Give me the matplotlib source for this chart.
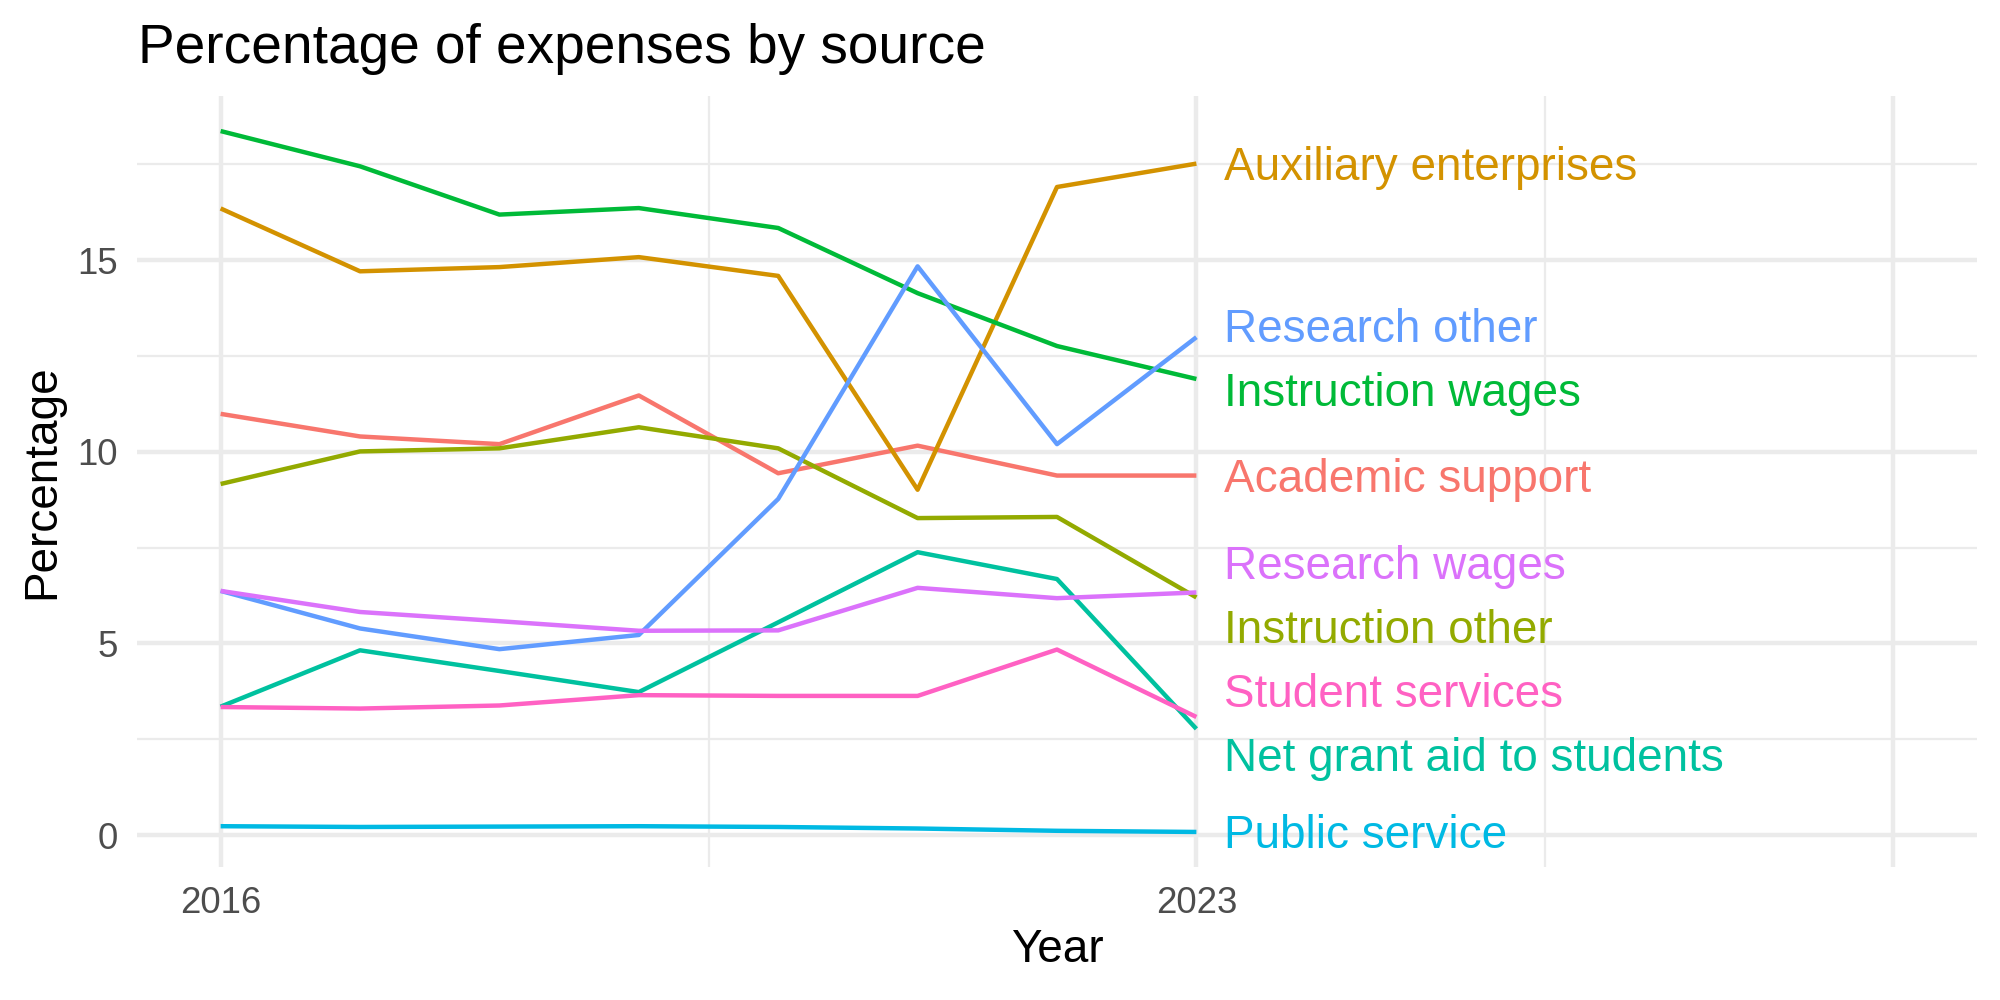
import matplotlib
matplotlib.use("Agg")
import matplotlib.pyplot as plt
import matplotlib.transforms as mtransforms
import numpy as np

plt.rcParams['font.family'] = ['Liberation Sans', 'DejaVu Sans']

years = [2016, 2017, 2018, 2019, 2020, 2021, 2022, 2023]

academic_support = [10.99, 10.40, 10.20, 11.47, 9.44, 10.16, 9.38, 9.38]
auxiliary_enterprises = [16.35, 14.71, 14.82, 15.08, 14.59, 9.01, 16.91, 17.52]
instruction_other = [9.16, 10.01, 10.09, 10.64, 10.09, 8.27, 8.30, 6.20]
instruction_wages = [18.37, 17.45, 16.19, 16.36, 15.84, 14.14, 12.76, 11.90]
net_grant_aid = [3.35, 4.82, 4.28, 3.73, 5.55, 7.38, 6.68, 2.77]
public_service = [0.23, 0.21, 0.22, 0.23, 0.21, 0.17, 0.11, 0.08]
research_other = [6.37, 5.39, 4.85, 5.22, 8.77, 14.84, 10.20, 12.99]
research_wages = [6.37, 5.82, 5.58, 5.33, 5.34, 6.45, 6.18, 6.33]
student_services = [3.34, 3.30, 3.38, 3.65, 3.63, 3.63, 4.84, 3.08]

sources = ["Academic support", "Auxiliary enterprises", "Instruction other",
           "Instruction wages", "Net grant aid to students", "Public service",
           "Research other", "Research wages", "Student services"]
series = [academic_support, auxiliary_enterprises, instruction_other,
          instruction_wages, net_grant_aid, public_service,
          research_other, research_wages, student_services]
# ggplot hue palette, 9 levels
colors = ["#F8766D", "#D39200", "#93AA00", "#00BA38", "#00C19F",
          "#00B9E3", "#619CFF", "#DB72FB", "#FF61C3"]

x_max = 2028

fig = plt.figure(figsize=(20, 10), dpi=100)
ax = fig.add_axes([0.0685, 0.133, 0.92, 0.771])

for vals, col in zip(series, colors):
    ax.plot(years, vals, color=col, lw=3.2, solid_capstyle='butt', zorder=3)

# labels at the end, pushed apart like ggrepel in y
end_vals = np.array([s[-1] for s in series], dtype=float)
pos = end_vals.copy()
gap = 1.65
for _ in range(300):
    idx = np.argsort(pos)
    for a, b in zip(idx[:-1], idx[1:]):
        d = pos[b] - pos[a]
        if d < gap:
            shift = (gap - d) / 2
            pos[a] -= shift
            pos[b] += shift

off = mtransforms.offset_copy(ax.transData, fig=fig, x=0, y=-16, units='dots')
for name, y, col in zip(sources, pos, colors):
    ax.text(years[-1] + 0.2, y, name, color=col, fontsize=33,
            ha='left', va='baseline', transform=off)

allv = np.concatenate([np.array(s) for s in series])
ylo, yhi = allv.min(), allv.max()
ypad = 0.05 * (yhi - ylo)
ax.set_ylim(ylo - ypad, yhi + ypad)
xpad = 0.05 * (x_max - years[0])
ax.set_xlim(years[0] - xpad, x_max + xpad)

ax.set_xticks([2016, 2023, 2028])
ax.set_xticklabels(["2016", "2023", ""])
ax.set_xticks([2019.5, 2025.5], minor=True)
ax.set_yticks([0, 5, 10, 15])
ax.set_yticks([2.5, 7.5, 12.5, 17.5], minor=True)

ax.grid(which='major', color='#EBEBEB', lw=3.2)
ax.grid(which='minor', color='#EBEBEB', lw=1.6)
ax.set_axisbelow(True)
for s in ax.spines.values():
    s.set_visible(False)
ax.tick_params(which='both', length=0, labelsize=26.4, labelcolor='#4D4D4D', pad=14)

fig.text(0.069, 0.937, "Percentage of expenses by source", fontsize=39.6,
         ha='left', va='baseline')
fig.text(0.5285, 0.05, "Year", fontsize=33, ha='center', va='center')
fig.text(0.021, 0.5185, "Percentage", fontsize=33, rotation=90,
         ha='center', va='center')

fig.savefig("out.png", dpi=100, facecolor='white')
